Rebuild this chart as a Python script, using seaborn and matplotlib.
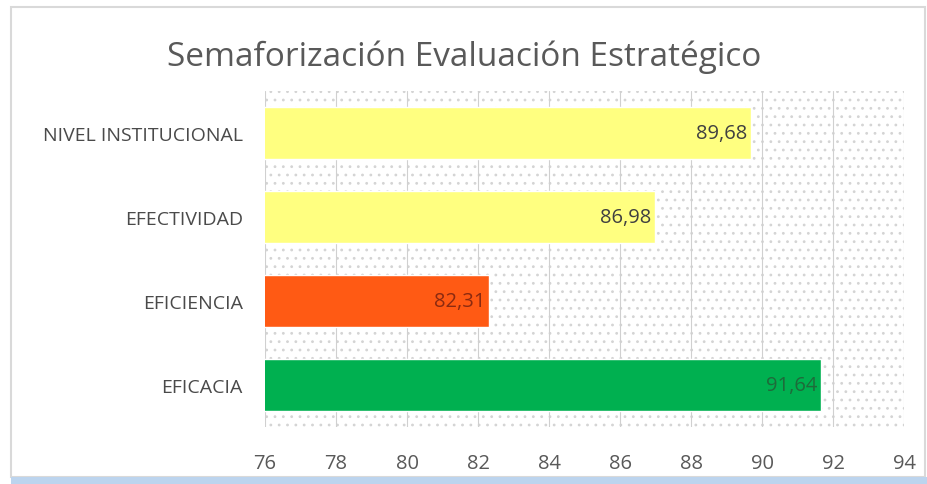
import matplotlib
matplotlib.use("Agg")
import matplotlib.pyplot as plt
import seaborn as sns
import pandas as pd
from matplotlib.patches import Rectangle

categories = ["NIVEL INSTITUCIONAL", "EFECTIVIDAD", "EFICIENCIA", "EFICACIA"]
values = [89.68, 86.98, 82.31, 91.64]
labels = ["89,68", "86,98", "82,31", "91,64"]
colors = ["#FFFF80", "#FFFF80", "#FF5A14", "#00B050"]
label_colors = ["#404040", "#404040", "#8B2A10", "#1E6B3A"]
ticks = [76, 78, 80, 82, 84, 86, 88, 90, 92, 94]

df = pd.DataFrame({"cat": categories, "val": values})

sns.set_style("white")
plt.rcParams["font.family"] = ["Open Sans", "DejaVu Sans"]
plt.rcParams["hatch.linewidth"] = 0.8

fig = plt.figure(figsize=(9.28, 4.85), dpi=100)
ax = fig.add_axes([0.2856, 0.1175, 0.689, 0.693])

# dotted background
bg = Rectangle((0, 0), 1, 1, transform=ax.transAxes, facecolor="white",
               edgecolor="#d4d4d4", hatch="..", linewidth=0, zorder=0)
ax.add_patch(bg)

sns.barplot(data=df, y="cat", x="val", hue="cat", palette=colors,
            order=categories, hue_order=categories, legend=False,
            width=0.62, ax=ax, zorder=3, saturation=1)

ax.set_xlim(76, 94)
ax.set_xticks(ticks)
ax.set_xticklabels([str(t) for t in ticks], fontsize=14.5, color="#595959")
ax.tick_params(axis="y", labelsize=14, labelcolor="#4a4a4a", length=0, pad=16)
ax.tick_params(axis="x", length=0, pad=19)
ax.set_xlabel("")
ax.set_ylabel("")
ax.grid(axis="x", color="#d0d0d0", linewidth=0.8, zorder=1)
ax.set_axisbelow(False)
for s in ax.spines.values():
    s.set_visible(False)

for i, (v, lab) in enumerate(zip(values, labels)):
    ax.text(v - 0.1, i, lab, ha="right", va="center", fontsize=14.5,
            color=label_colors[i], zorder=5)

fig.text(0.5, 0.882, "Semaforización Evaluación Estratégico", ha="center",
         va="center", fontsize=24, color="#595959")

# figure border
fig.patches.append(Rectangle((0.012, 0.014), 0.985, 0.97, transform=fig.transFigure,
                             fill=False, edgecolor="#d9d9d9", linewidth=1.5))
fig.patches.append(Rectangle((0.012, 0.0), 0.988, 0.014, transform=fig.transFigure,
                             facecolor="#bcd4ee", edgecolor="none"))

fig.savefig("out.png", dpi=100)
